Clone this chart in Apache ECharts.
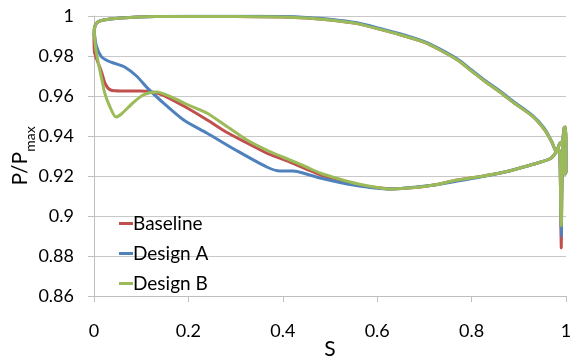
<!DOCTYPE html>
<html>
<head>
<meta charset="utf-8">
<script src="https://cdn.jsdelivr.net/npm/echarts@6/dist/echarts.min.js"></script>
<style>
html,body{margin:0;padding:0;background:#fff;}
#chart{width:570px;height:357px;}
</style>
</head>
<body>
<div id="chart"></div>
<script>
// Series names
const seriesNames = ['Baseline', 'Design A', 'Design B'];
// Axis tick labels
const xTicks = [0, 0.2, 0.4, 0.6, 0.8, 1];
const yTicks = [0.86, 0.88, 0.9, 0.92, 0.94, 0.96, 0.98, 1];

// Shared upper branch (TE -> LE)
const upperS = [0.98, 0.97, 0.955, 0.93, 0.89, 0.86, 0.83, 0.8, 0.77, 0.733, 0.70, 0.65, 0.606, 0.557, 0.5, 0.45, 0.4, 0.3, 0.2, 0.13, 0.06, 0.02, 0.008, 0.002, 0.0];
const upperP = [0.932, 0.937, 0.943, 0.9497, 0.9565, 0.962, 0.967, 0.9725, 0.978, 0.983, 0.9868, 0.9905, 0.9933, 0.9962, 0.998, 0.999, 0.9995, 0.9998, 0.9998, 0.9997, 0.999, 0.998, 0.997, 0.995, 0.99];
const upperPA = [0.932, 0.937, 0.9435, 0.950, 0.957, 0.9625, 0.9675, 0.973, 0.9785, 0.9835, 0.9872, 0.991, 0.9938, 0.9966, 0.9984, 0.9993, 0.9997, 0.9999, 0.9999, 0.9998, 0.9991, 0.998, 0.997, 0.995, 0.99];

// Baseline lower branch (LE -> TE) and trailing edge loop
const baseS = [0.0, 0.001, 0.008, 0.016, 0.024, 0.035, 0.06, 0.1, 0.14, 0.19, 0.24, 0.28, 0.324, 0.37, 0.415, 0.45, 0.48, 0.52, 0.56, 0.6, 0.63, 0.68, 0.72, 0.77, 0.82, 0.87, 0.91, 0.94, 0.965, 0.975,
  0.983, 0.987, 0.989, 0.990, 0.991, 0.993, 0.996, 0.999, 1.0, 1.0, 0.998, 0.995, 0.991, 0.986];
const baseP = [0.99, 0.982, 0.977, 0.972, 0.966, 0.963, 0.9625, 0.9625, 0.961, 0.955, 0.948, 0.942, 0.9365, 0.931, 0.927, 0.9235, 0.9205, 0.918, 0.9155, 0.9142, 0.9135, 0.9142, 0.9155, 0.918, 0.9198, 0.922, 0.9245, 0.9265, 0.9285, 0.9305,
  0.934, 0.93, 0.90, 0.884, 0.91, 0.935, 0.944, 0.9445, 0.935, 0.922, 0.921, 0.93, 0.937, 0.936];

// Design A lower branch
const aS = [0.0, 0.005, 0.0155, 0.03, 0.044, 0.065, 0.09, 0.114, 0.14, 0.19, 0.239, 0.3, 0.366, 0.394, 0.422, 0.45, 0.479, 0.549, 0.627, 0.712, 0.77, 0.818, 0.87, 0.91, 0.94, 0.965, 0.975,
  0.983, 0.987, 0.989, 0.990, 0.991, 0.993, 0.996, 0.999, 1.0, 1.0, 0.998, 0.995, 0.991, 0.986];
const aP = [0.993, 0.985, 0.9797, 0.9775, 0.9763, 0.9745, 0.970, 0.9638, 0.958, 0.948, 0.9415, 0.933, 0.9245, 0.9225, 0.9225, 0.921, 0.919, 0.9155, 0.9135, 0.9152, 0.9175, 0.9195, 0.922, 0.9245, 0.9265, 0.9285, 0.9305,
  0.934, 0.93, 0.90, 0.89, 0.91, 0.935, 0.944, 0.9445, 0.935, 0.922, 0.921, 0.93, 0.937, 0.936];

// Design B lower branch
const bS = [0.0, 0.003, 0.008, 0.015, 0.023, 0.033, 0.0466, 0.058, 0.08, 0.104, 0.133, 0.168, 0.2, 0.239, 0.28, 0.324, 0.37, 0.415, 0.45, 0.479, 0.52, 0.56, 0.6, 0.63, 0.68, 0.72, 0.77, 0.82, 0.87, 0.91, 0.94, 0.965, 0.975,
  0.983, 0.987, 0.989, 0.990, 0.991, 0.993, 0.996, 0.999, 1.0, 1.0, 0.998, 0.995, 0.991, 0.986];
const bP = [0.994, 0.985, 0.978, 0.97, 0.9613, 0.955, 0.9495, 0.951, 0.956, 0.9605, 0.962, 0.959, 0.9555, 0.9515, 0.945, 0.938, 0.9325, 0.928, 0.9245, 0.9215, 0.9185, 0.916, 0.9143, 0.9135, 0.9142, 0.9155, 0.918, 0.9198, 0.922, 0.9245, 0.9265, 0.9285, 0.9305,
  0.934, 0.93, 0.90, 0.895, 0.91, 0.935, 0.944, 0.9445, 0.935, 0.922, 0.921, 0.93, 0.937, 0.936];

function pairs(s1, p1, s2, p2) {
  const out = [];
  for (let i = 0; i < s1.length; i++) out.push([s1[i], p1[i]]);
  for (let i = 0; i < s2.length; i++) out.push([s2[i], p2[i]]);
  return out;
}

const colors = ['#C0504D', '#4F81BD', '#9BBB59'];
const datasets = [
  pairs(baseS, baseP, upperS, upperP),
  pairs(aS, aP, upperS, upperPA),
  pairs(bS, bP, upperS, upperP)
];

const FONT = 'Lato';
const chart = echarts.init(document.getElementById('chart'), null, {renderer: 'canvas'});
chart.setOption({
  animation: false,
  backgroundColor: '#fff',
  grid: {left: 94, right: 4, top: 16, bottom: 61, containLabel: false, outerBoundsMode: 'none'},
  legend: {
    orient: 'vertical',
    left: 114,
    top: 209,
    itemGap: 11,
    itemWidth: 14,
    itemHeight: 3,
    icon: 'rect',
    data: seriesNames,
    textStyle: {fontFamily: FONT, fontSize: 19, color: '#000', padding: [0, 0, 0, -5]}
  },
  xAxis: {
    type: 'value',
    min: xTicks[0],
    max: xTicks[xTicks.length - 1],
    interval: 0.2,
    name: 'S',
    nameLocation: 'middle',
    nameMoveOverlap: false,
    nameGap: 43,
    nameTextStyle: {fontFamily: FONT, fontSize: 21, color: '#000', verticalAlign: 'top'},
    axisLine: {show: true, lineStyle: {color: '#bfbfbf', width: 1}},
    axisTick: {show: true, length: 6, lineStyle: {color: '#bfbfbf'}},
    axisLabel: {fontFamily: FONT, fontSize: 18, color: '#000', margin: 26},
    splitLine: {show: false}
  },
  yAxis: {
    type: 'value',
    min: yTicks[0],
    max: yTicks[yTicks.length - 1],
    interval: 0.02,
    name: 'P/P{sub|max}',
    nameLocation: 'middle',
    nameMoveOverlap: false,
    nameRotate: 90,
    nameGap: 63,
    nameTextStyle: {
      fontFamily: FONT, fontSize: 21, color: '#000',
      rich: {
        sub: {fontFamily: FONT, fontSize: 14, color: '#000', verticalAlign: 'bottom', lineHeight: 14, padding: [0, 0, -6, 0]}
      }
    },
    axisLine: {show: true, lineStyle: {color: '#bfbfbf', width: 1}},
    axisTick: {show: true, length: 6, lineStyle: {color: '#bfbfbf'}},
    axisLabel: {fontFamily: FONT, fontSize: 18, color: '#000', margin: 20},
    splitLine: {show: true, lineStyle: {color: '#c8c8c8', width: 1}}
  },
  series: seriesNames.map((n, i) => ({
    name: n,
    type: 'line',
    data: datasets[i],
    smooth: 0.25,
    showSymbol: false,
    symbol: 'none',
    color: colors[i],
    lineStyle: {color: colors[i], width: 3},
    z: 2 + i
  }))
});
</script>
</body>
</html>
